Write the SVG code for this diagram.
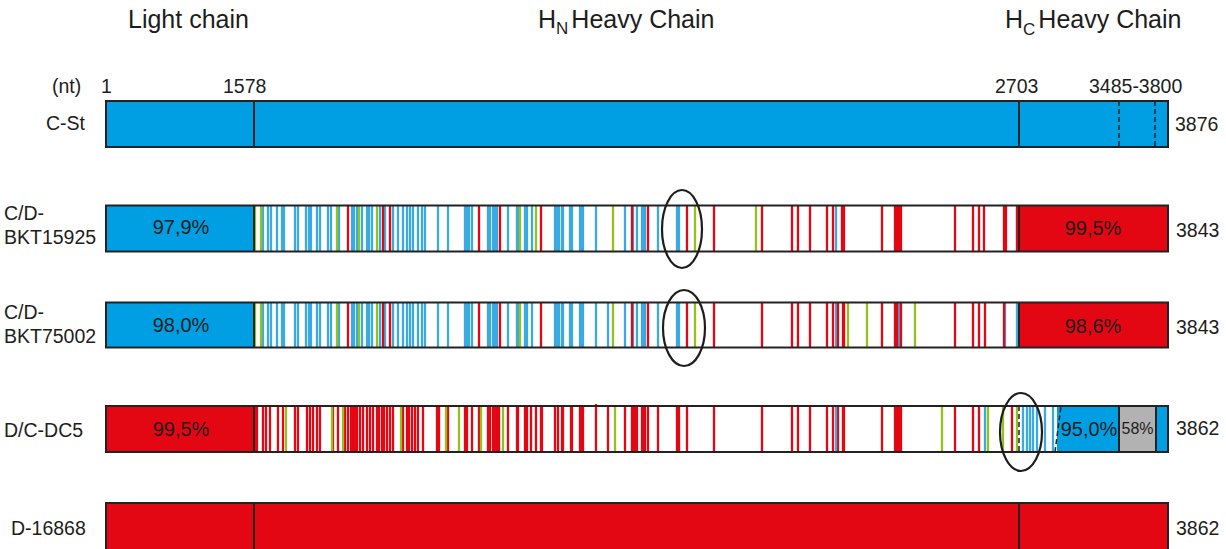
<svg xmlns="http://www.w3.org/2000/svg" width="1226" height="549" viewBox="0 0 1226 549">
<style>
text{font-family:"Liberation Sans",Arial,sans-serif;fill:#1d1d1b}
.h{font-size:25px}
.l{font-size:19.5px}
.p{font-size:20px;text-anchor:middle}
.fb{fill:#009fe3}
.fr{fill:#e30613}
.fg{fill:#b2b2b2}
.fw{fill:#fff}
.frame{fill:none;stroke:#222;stroke-width:2}
.dv{stroke:#222;stroke-width:2;fill:none}
.ds{stroke:#222;stroke-width:1.5;stroke-dasharray:5 3;fill:none}
.b{stroke:#3aaae1;stroke-width:2.3;fill:none}
.r{stroke:#e30613;stroke-width:2.3;fill:none}
.g{stroke:#95c11f;stroke-width:2.3;fill:none}
.el{fill:none;stroke:#1d1d1b;stroke-width:2.2}
</style>

<g id="headers">
<text class="h" x="128" y="28">Light chain</text>
<text class="h" x="538" y="28">H<tspan font-size="17" dy="6">N</tspan><tspan dy="-6" dx="3">Heavy Chain</tspan></text>
<text class="h" x="1005" y="28">H<tspan font-size="17" dy="7">C</tspan><tspan dy="-7" dx="3">Heavy Chain</tspan></text>
</g>

<g id="scale">
<text class="l" x="52" y="93">(nt)</text>
<text class="l" x="101" y="93">1</text>
<text class="l" x="223" y="93">1578</text>
<text class="l" x="995" y="93">2703</text>
<text class="l" x="1089" y="93">3485-3800</text>
</g>

<g id="bar-CSt">
<rect class="fb" x="106" y="101" width="1062" height="46"/>
<path class="dv" d="M254 101V147M1019 101V147"/>
<path class="ds" d="M1119 101V147M1155 101V147"/>
<rect class="frame" x="106" y="101" width="1062" height="46"/>
<text class="l" x="46" y="130">C-St</text>
<text class="l" x="1175" y="131">3876</text>
</g>

<g id="bar-BKT15925">
<rect class="fw" x="106" y="205.5" width="1062" height="46"/>
<rect class="fb" x="106" y="205.5" width="148" height="46"/>
<rect class="fr" x="1019" y="205.5" width="149" height="46"/>
<path class="b" d="M263 206V251M268 206V251M271 206V251M277 206V251M282 206V251M284 206V251M295 206V251M298 206V251M306 206V251M309 206V251M311 206V251M317 206V251M320 206V251M328 206V251M331 206V251M339 206V251M352 206V251M354 206V251M357 206V251M362 206V251M367 206V251M369 206V251M372 206V251M380 206V251M385 206V251M393 206V251M398 206V251M403 206V251M407 206V251M410 206V251M413 206V251M418 206V251M422 206V251M425 206V251M438 206V251M448 206V251M465 206V251M467 206V251M469 206V251M472 206V251M488 206V251M490 206V251M493 206V251M495 206V251M497 206V251M508 206V251M517 206V251M518 206V251M525 206V251M527 206V251M532 206V251M555 206V251M557 206V251M559 206V251M562 206V251M563 206V251M570 206V251M572 206V251M580 206V251M582 206V251M583 206V251M596 206V251M625 206V251M633 206V251M637 206V251M642 206V251M643 206V251M645 206V251M658 206V251M677 206V251M679 206V251M836 206V251"/>
<path class="r" d="M348 206V251M383 206V251M390 206V251M479 206V251M500 206V251M541 206V251M632 206V251M648 206V251M687 206V251M714 206V251M762 206V251M792 206V251M798 206V251M810 206V251M827 206V251M833 206V251M842 206V251M844 206V251M882 206V251M895 206V251M897 206V251M899 206V251M901 206V251M955 206V251M973 206V251M979 206V251M984 206V251M1004 206V251M1006 206V251M1017 206V251"/>
<path class="g" d="M255 206V251M261 206V251M337 206V251M359 206V251M377 206V251M520 206V251M536 206V251M613 206V251M695 206V251M756 206V251"/>
<path class="dv" d="M254 205.5V251.5M1019 205.5V251.5"/>
<rect class="frame" x="106" y="205.5" width="1062" height="46"/>
<ellipse class="el" cx="682" cy="229" rx="20" ry="39"/>
<text class="l" x="4" y="220">C/D-</text>
<text class="l" x="4" y="244">BKT15925</text>
<text class="p" x="181" y="234">97,9%</text>
<text class="p" x="1093" y="235">99,5%</text>
<text class="l" x="1176" y="237">3843</text>
</g>

<g id="bar-BKT75002">
<rect class="fw" x="106" y="302.5" width="1062" height="45"/>
<rect class="fb" x="106" y="302.5" width="148" height="45"/>
<rect class="fr" x="1019" y="302.5" width="149" height="45"/>
<path class="b" d="M263 303V347M268 303V347M271 303V347M277 303V347M282 303V347M284 303V347M295 303V347M298 303V347M306 303V347M309 303V347M311 303V347M317 303V347M320 303V347M328 303V347M331 303V347M339 303V347M352 303V347M354 303V347M357 303V347M362 303V347M367 303V347M369 303V347M372 303V347M380 303V347M385 303V347M393 303V347M398 303V347M403 303V347M407 303V347M410 303V347M413 303V347M418 303V347M422 303V347M425 303V347M438 303V347M448 303V347M465 303V347M467 303V347M469 303V347M472 303V347M488 303V347M490 303V347M493 303V347M495 303V347M497 303V347M508 303V347M517 303V347M518 303V347M525 303V347M527 303V347M532 303V347M555 303V347M557 303V347M559 303V347M562 303V347M563 303V347M570 303V347M572 303V347M580 303V347M582 303V347M583 303V347M596 303V347M608 303V347M625 303V347M633 303V347M637 303V347M642 303V347M643 303V347M645 303V347M658 303V347M677 303V347M679 303V347M836 303V347M899 303V347M1005 303V347"/>
<path class="b" stroke-width="3" d="M1017 303V347"/>
<path class="r" d="M348 303V347M383 303V347M390 303V347M479 303V347M500 303V347M541 303V347M632 303V347M648 303V347M687 303V347M714 303V347M762 303V347M792 303V347M798 303V347M810 303V347M827 303V347M833 303V347M838 303V347M843 303V347M844 303V347M882 303V347M895 303V347M897 303V347M901 303V347M955 303V347M973 303V347M979 303V347M985 303V347M1004 303V347"/>
<path class="g" d="M255 303V347M261 303V347M337 303V347M359 303V347M377 303V347M520 303V347M613 303V347M695 303V347M848 303V347M867 303V347M915 303V347"/>
<path class="dv" d="M254 302.5V347.5M1019 302.5V347.5"/>
<rect class="frame" x="106" y="302.5" width="1062" height="45"/>
<ellipse class="el" cx="684" cy="328" rx="21" ry="38"/>
<text class="l" x="4" y="319">C/D-</text>
<text class="l" x="4" y="343">BKT75002</text>
<text class="p" x="181" y="332">98,0%</text>
<text class="p" x="1093" y="333">98,6%</text>
<text class="l" x="1176" y="334">3843</text>
</g>

<g id="bar-DC5">
<rect class="fw" x="106" y="406" width="1062" height="46"/>
<rect class="fr" x="106" y="406" width="148" height="46"/>
<rect class="fb" x="1057" y="406" width="62" height="46"/>
<rect class="fg" x="1119" y="406" width="37" height="46"/>
<rect class="fb" x="1156" y="406" width="12" height="46"/>
<path class="r" d="M255 407V451M257 407V451M263 407V451M266 407V451M270 407V451M278 407V451M283 407V451M295 407V451M298 407V451M307 407V451M310 407V451M313 407V451M317 407V451M320 407V451M333 407V451M338 407V451M345 407V451M348 407V451M351 407V451M353 407V451M355 407V451M357 407V451M360 407V451M363 407V451M367 407V451M370 407V451M373 407V451M377 407V451M379 407V451M382 407V451M384 407V451M387 407V451M390 407V451M393 407V451M403 407V451M407 407V451M409 407V451M412 407V451M415 407V451M418 407V451M423 407V451M437 407V451M439 407V451M448 407V451M465 407V451M467 407V451M472 407V451M479 407V451M488 407V451M490 407V451M493 407V451M495 407V451M497 407V451M499 407V451M508 407V451M517 407V451M518 407V451M525 407V451M527 407V451M531 407V451M536 407V451M541 407V451M542 407V451M555 407V451M558 407V451M562 407V451M563 407V451M571 407V451M572 407V451M580 407V451M582 407V451M583 407V451M596 404V451M608 407V451M625 407V451M632 407V451M633 407V451M635 407V451M637 407V451M642 407V451M643 407V451M645 407V451M648 407V451M658 407V451M677 407V451M679 407V451M687 407V451M714 407V451M762 407V451M792 407V451M798 407V451M810 407V451M827 407V451M833 407V451M838 407V451M843 407V451M844 407V451M882 407V451M895 407V451M897 407V451M899 407V451M901 407V451M955 407V451M973 407V451M979 407V451M1012 407V451"/>
<path class="b" d="M836 407V451M985 407V451M1023 407V451M1027 407V451M1030 407V451M1033 407V451M1037 407V451M1045 407V451M1053 407V451"/>
<path class="g" d="M286 407V451M332 407V451M343 407V451M401 407V451M446 407V451M459 407V451M481 407V451M503 407V451M615 407V451M942 407V451M988 407V451M1003 407V451M1017 407V451"/>
<path class="dv" d="M254 406V452M1119 406V452M1156 406V452"/>
<path class="ds" d="M1019 406V452M1055 452L1061 406"/>
<rect class="frame" x="106" y="406" width="1062" height="46"/>
<ellipse class="el" cx="1021" cy="432" rx="21" ry="39"/>
<text class="l" x="4" y="437">D/C-DC5</text>
<text class="p" x="181" y="436">99,5%</text>
<text class="p" x="1089" y="436">95,0%</text>
<text x="1137.5" y="434" font-size="16" text-anchor="middle">58%</text>
<text class="l" x="1176" y="435">3862</text>
</g>

<g id="bar-D16868">
<rect class="fr" x="106" y="503" width="1062" height="47"/>
<path class="dv" d="M254 503V549M1019 503V549"/>
<rect class="frame" x="106" y="503" width="1062" height="47"/>
<text class="l" x="11" y="535">D-16868</text>
<text class="l" x="1176" y="535">3862</text>
</g>
</svg>
